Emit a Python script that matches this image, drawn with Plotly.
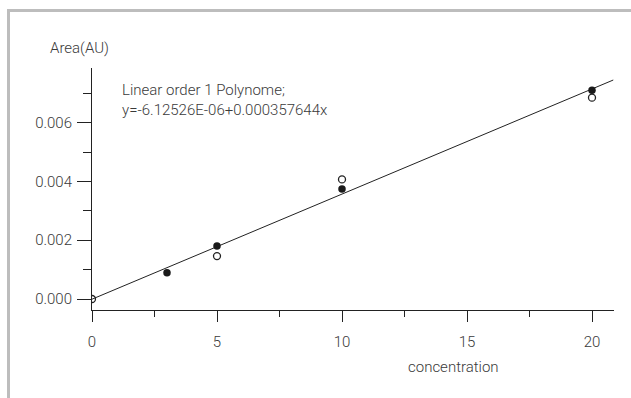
import plotly.graph_objects as go

# Data
filled_x = [3, 5, 10, 20]
filled_y = [0.000895, 0.00180, 0.00374, 0.00710]
open_x = [0, 5, 10, 20]
open_y = [0.0, 0.00146, 0.00407, 0.00685]
intercept = -6.12526e-06
slope = 0.000357644
line_x = [0, 20.85]
line_y = [intercept + slope * v for v in line_x]

x_ticks = [0, 5, 10, 15, 20]
y_ticks = [0.000, 0.002, 0.004, 0.006]
y_tick_text = ["0.000", "0.002", "0.004", "0.006"]

FONT = "Roboto, Arial, sans-serif"
TXT = "#3a3a3a"

fig = go.Figure()
fig.add_trace(go.Scatter(x=line_x, y=line_y, mode="lines",
                         line=dict(color="#222222", width=1), showlegend=False))
fig.add_trace(go.Scatter(x=open_x, y=open_y, mode="markers",
                         marker=dict(symbol="circle-open", size=7, color="#222222",
                                     line=dict(width=1.3)), showlegend=False))
fig.add_trace(go.Scatter(x=filled_x, y=filled_y, mode="markers",
                         marker=dict(symbol="circle", size=7.5, color="#1a1a1a"),
                         showlegend=False))

L, R, T, B = 92, 614, 68, 310
W, H = 631, 398
pw, ph = R - L, B - T

def px(x):
    return (x - L) / pw

def py(y):
    return (B - y) / ph

tf = dict(family=FONT, size=15, color=TXT, weight=300)

fig.update_layout(
    width=W, height=H,
    margin=dict(l=L, r=W - R, t=T, b=H - B),
    paper_bgcolor="white", plot_bgcolor="white",
    font=tf,
    xaxis=dict(range=[0, pw / 25.0], showgrid=False, zeroline=False,
               showline=True, linecolor="#222222", linewidth=1,
               tickmode="array", tickvals=x_ticks, ticks="outside",
               ticklen=11, tickcolor="#222222", tickwidth=1,
               ticklabelstandoff=7, tickfont=tf,
               minor=dict(dtick=2.5, tick0=0, ticks="outside", ticklen=6,
                          tickcolor="#222222", tickwidth=1)),
    yaxis=dict(range=[-0.000374, 0.00786], showgrid=False, zeroline=False,
               showline=True, linecolor="#222222", linewidth=1,
               tickmode="array", tickvals=y_ticks, ticktext=y_tick_text,
               ticks="outside", ticklen=14, tickcolor="#222222", tickwidth=1,
               ticklabelstandoff=2, tickfont=tf,
               minor=dict(dtick=0.002, tick0=0.001, ticks="outside", ticklen=8,
                          tickcolor="#222222", tickwidth=1)),
    shapes=[
        dict(type="line", xref="paper", yref="paper", x0=px(8), x1=px(640),
             y0=py(10.5), y1=py(10.5), line=dict(color="#bdbdbd", width=3)),
        dict(type="line", xref="paper", yref="paper", x0=px(8.5), x1=px(8.5),
             y0=py(9), y1=py(410), line=dict(color="#bdbdbd", width=3)),
    ],
    annotations=[
        dict(text="Area(AU)", xref="paper", yref="paper", x=px(48), y=py(48),
             xanchor="left", yanchor="middle", showarrow=False, font=tf),
        dict(text="Linear order 1 Polynome;", xref="paper", yref="paper",
             x=px(120), y=py(90), xanchor="left", yanchor="middle", showarrow=False,
             font=tf),
        dict(text="y=-6.12526E-06+0.000357644x", xref="paper", yref="paper",
             x=px(120), y=py(110), xanchor="left", yanchor="middle", showarrow=False,
             font=tf),
        dict(text="concentration", xref="paper", yref="paper",
             x=px(453), y=py(367), xanchor="center", yanchor="middle", showarrow=False,
             font=tf),
    ],
)

fig.write_html("out.html")
